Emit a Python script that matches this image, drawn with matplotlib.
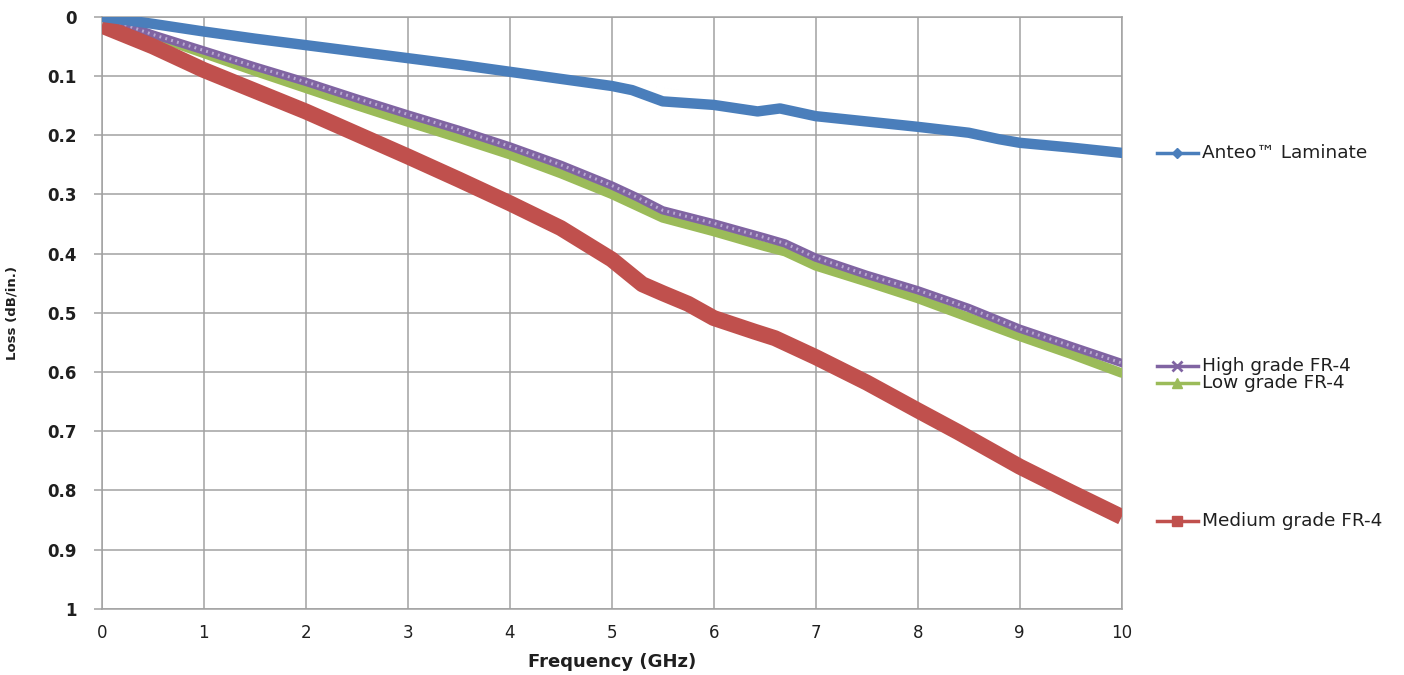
import matplotlib
matplotlib.use("Agg")
import matplotlib.pyplot as plt
from matplotlib.transforms import blended_transform_factory
from matplotlib.lines import Line2D

# ---- data ----
freq_anteo = [0, 0.5, 1, 1.5, 2, 2.5, 3, 3.5, 4, 4.5, 5, 5.2, 5.5, 6, 6.43, 6.65,
              7, 7.5, 8, 8.5, 8.8, 9, 9.5, 10]
loss_anteo = [0.0, 0.012, 0.025, 0.037, 0.048, 0.059, 0.070, 0.081, 0.093, 0.105,
              0.117, 0.124, 0.143, 0.149, 0.160, 0.155, 0.168, 0.177, 0.186, 0.196,
              0.207, 0.213, 0.221, 0.230]

freq_fr4 = [0, 0.5, 1, 1.5, 2, 2.5, 3, 3.5, 4, 4.5, 5, 5.25, 5.5, 6, 6.5, 6.7,
            7, 7.5, 8, 8.5, 9, 9.5, 10]
loss_high = [0.0, 0.030, 0.057, 0.084, 0.110, 0.138, 0.165, 0.191, 0.219, 0.250,
             0.285, 0.305, 0.327, 0.349, 0.373, 0.383, 0.407, 0.436, 0.462, 0.492,
             0.527, 0.556, 0.585]
loss_low = [0.0, 0.032, 0.062, 0.092, 0.121, 0.150, 0.178, 0.205, 0.233, 0.265,
            0.300, 0.320, 0.340, 0.363, 0.388, 0.397, 0.421, 0.448, 0.476, 0.508,
            0.540, 0.570, 0.602]

freq_med = [0, 0.5, 1, 1.5, 2, 2.5, 3, 3.5, 4, 4.5, 5, 5.3, 5.5, 5.75, 6, 6.4, 6.6,
            7, 7.5, 8, 8.4, 9, 9.5, 10]
loss_med = [0.015, 0.050, 0.090, 0.125, 0.160, 0.198, 0.236, 0.275, 0.315, 0.357,
            0.410, 0.452, 0.467, 0.485, 0.509, 0.532, 0.543, 0.575, 0.618, 0.665,
            0.702, 0.760, 0.803, 0.845]

series_names = ["Anteo\u2122 Laminate", "High grade FR-4", "Low grade FR-4", "Medium grade FR-4"]
x_ticks = list(range(0, 11))
y_ticks = [0, 0.1, 0.2, 0.3, 0.4, 0.5, 0.6, 0.7, 0.8, 0.9, 1]
y_tick_labels = ["0", "0.1", "0.2", "0.3", "0.4", "0.5", "0.6", "0.7", "0.8", "0.9", "1"]

BLUE = "#4A7EBB"
PURPLE = "#8064A2"
GREEN = "#9BBB59"
RED = "#C0504D"
GRID = "#A2A2A2"
TXT = "#1F1F1F"

plt.rcParams['font.family'] = ['DejaVu Sans']

fig = plt.figure(figsize=(14.04, 6.75), dpi=100)
ax = fig.add_axes([101.7 / 1404, 1 - 608.7 / 675, 1020 / 1404, 592 / 675])

ax.plot(freq_fr4, loss_low, color=GREEN, lw=6.8, solid_capstyle='round', solid_joinstyle='round', zorder=3)
ax.plot(freq_fr4, loss_high, color=PURPLE, lw=6.0, solid_capstyle='round', solid_joinstyle='round', zorder=4)
ax.plot(freq_fr4, loss_high, color='#C8BCDD', lw=2.2, ls=(0, (0.6, 1.4)), alpha=0.8, zorder=4.5)
ax.plot(freq_med, loss_med, color=RED, lw=11.5, solid_capstyle='butt', solid_joinstyle='round', zorder=5)
ax.plot(freq_anteo, loss_anteo, color=BLUE, lw=7.5, solid_capstyle='round', solid_joinstyle='round', zorder=6)

ax.set_xlim(0, 10)
ax.set_ylim(1, 0)
ax.set_xticks(x_ticks)
ax.set_yticks(y_ticks)
ax.set_yticklabels(y_tick_labels)
ax.grid(True, color=GRID, lw=1.1)
ax.set_axisbelow(True)
for s in ax.spines.values():
    s.set_color(GRID)
    s.set_linewidth(1.1)
ax.tick_params(axis='y', length=6, width=1.1, color=GRID, pad=12, labelsize=12, labelcolor=TXT)
ax.tick_params(axis='x', length=0, pad=11, labelsize=12, labelcolor=TXT)
for lab in ax.get_yticklabels():
    lab.set_fontweight('bold')

ax.set_xlabel("Frequency (GHz)", fontsize=13, fontweight='bold', labelpad=8, color=TXT)
ax.set_ylabel("Loss (dB/in.)", fontsize=9.5, fontweight='bold', color=TXT)
ax.yaxis.set_label_coords((18 - 101.7) / 1020, 0.5)

# Excel-style legend entries placed next to the line ends
trans = blended_transform_factory(ax.transAxes, ax.transData)
legend_items = [
    (series_names[0], BLUE, 'D', 0.230, 5),
    (series_names[1], PURPLE, 'x', 0.590, 7),
    (series_names[2], GREEN, '^', 0.619, 7),
    (series_names[3], RED, 's', 0.852, 7),
]
x0 = (1157 - 101.7) / 1020
x1 = (1198 - 101.7) / 1020
xt = (1202 - 101.7) / 1020
for name, col, mk, yy, ms in legend_items:
    ax.add_line(Line2D([x0, x1], [yy, yy], transform=trans, color=col, lw=2.5, clip_on=False))
    ax.add_line(Line2D([(x0 + x1) / 2], [yy], transform=trans, color=col, marker=mk, ms=ms,
                       mew=2 if mk == 'x' else 1, clip_on=False))
    ax.text(xt, yy, name, transform=trans, fontsize=13.3, va='center', ha='left', color=TXT)

fig.savefig("out.png", dpi=100)
